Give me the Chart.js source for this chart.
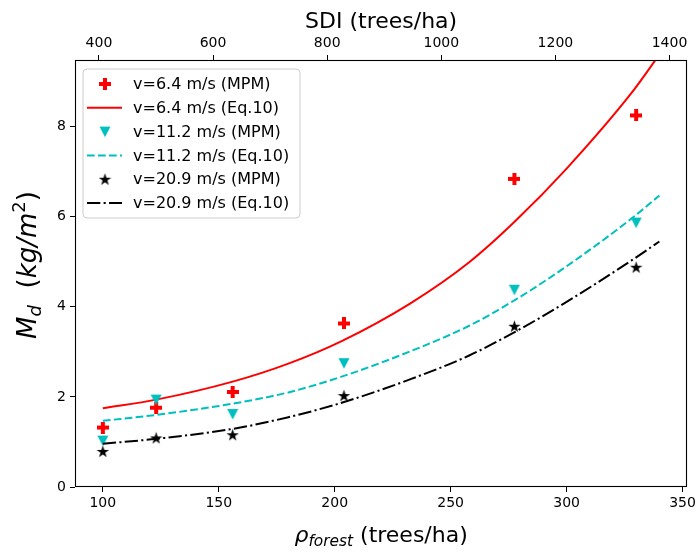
<!DOCTYPE html>
<html><head><meta charset="utf-8">
<script src="https://cdn.jsdelivr.net/npm/chart.js@4.4.1/dist/chart.umd.min.js"></script>
<style>html,body{margin:0;padding:0;background:#fff;}#wrap{width:699px;height:552px;}</style>
</head><body><div id="wrap"><canvas id="c" width="699" height="552"></canvas></div>
<script>
// ---- data ----
const rhoTicks = [100, 150, 200, 250, 300, 350];
const sdiTicks = [400, 600, 800, 1000, 1200, 1400];
const mdTicks = [0, 2, 4, 6, 8];
const rhoMeasured = [100, 123, 156, 204, 277.5, 330];
const mpm64 = [1.32, 1.76, 2.11, 3.63, 6.84, 8.25];
const mpm112 = [1.03, 1.94, 1.62, 2.75, 4.38, 5.87];
const mpm209 = [0.79, 1.09, 1.16, 2.03, 3.57, 4.88];
const rhoCurve = [100, 123, 156, 180, 203, 233, 258, 278, 300, 328, 340];
const eq64 = [1.75, 1.94, 2.34, 2.74, 3.24, 4.09, 4.99, 5.91, 7.07, 8.75, 9.6];
const eq112 = [1.47, 1.6, 1.85, 2.1, 2.45, 3.02, 3.58, 4.16, 4.9, 5.96, 6.47];
const eq209 = [0.96, 1.07, 1.29, 1.55, 1.87, 2.4, 2.92, 3.45, 4.11, 5.03, 5.45];
const seriesLabels = ['v=6.4 m/s (MPM)', 'v=6.4 m/s (Eq.10)', 'v=11.2 m/s (MPM)', 'v=11.2 m/s (Eq.10)', 'v=20.9 m/s (MPM)', 'v=20.9 m/s (Eq.10)'];

const RED = '#ff0000', CYAN = '#00bfbf', BLACK = '#000000';
const FONT = '"DejaVu Sans", sans-serif';

// ---- marker images ----
function mk(size, draw) {
  const c = document.createElement('canvas'); c.width = size; c.height = size;
  const g = c.getContext('2d'); draw(g, size); return c;
}
const plusImg = mk(12, (g, s) => {
  g.fillStyle = RED; const t = s / 3, a = (s - t) / 2;
  g.beginPath();
  g.moveTo(a, 0); g.lineTo(a + t, 0); g.lineTo(a + t, a); g.lineTo(s, a); g.lineTo(s, a + t);
  g.lineTo(a + t, a + t); g.lineTo(a + t, s); g.lineTo(a, s); g.lineTo(a, a + t); g.lineTo(0, a + t);
  g.lineTo(0, a); g.lineTo(a, a); g.closePath(); g.fill();
});
const triImg = mk(12, (g, s) => {
  g.fillStyle = CYAN; g.beginPath();
  g.moveTo(0.5, 1); g.lineTo(s - 0.5, 1); g.lineTo(s / 2, s - 0.5); g.closePath(); g.fill();
});
const starImg = mk(13, (g, s) => {
  g.fillStyle = BLACK; g.beginPath();
  const cx = s / 2, cy = s / 2 + 0.5, R = s / 2, r = R * 0.381966;
  for (let i = 0; i < 10; i++) {
    const ang = -Math.PI / 2 + i * Math.PI / 5, rr = i % 2 ? r : R;
    const x = cx + rr * Math.cos(ang), y = cy + rr * Math.sin(ang);
    i ? g.lineTo(x, y) : g.moveTo(x, y);
  }
  g.closePath(); g.fill();
});

const pts = (xs, ys) => xs.map((x, i) => ({ x: x, y: ys[i] }));
const DASH = [7.7, 3.3];
const DASHDOT = [13.3, 3.3, 2.1, 3.3];

const datasets = [
  { label: seriesLabels[0], data: pts(rhoMeasured, mpm64), showLine: false, pointStyle: plusImg, pointRadius: 6, order: 6 },
  { label: seriesLabels[1], data: pts(rhoCurve, eq64), borderColor: RED, borderWidth: 2, pointRadius: 0, cubicInterpolationMode: 'monotone', order: 5 },
  { label: seriesLabels[2], data: pts(rhoMeasured, mpm112), showLine: false, pointStyle: triImg, pointRadius: 6, order: 4 },
  { label: seriesLabels[3], data: pts(rhoCurve, eq112), borderColor: CYAN, borderWidth: 2, borderDash: DASH, pointRadius: 0, cubicInterpolationMode: 'monotone', order: 3 },
  { label: seriesLabels[4], data: pts(rhoMeasured, mpm209), showLine: false, pointStyle: starImg, pointRadius: 6, order: 2 },
  { label: seriesLabels[5], data: pts(rhoCurve, eq209), borderColor: BLACK, borderWidth: 2, borderDash: DASHDOT, pointRadius: 0, cubicInterpolationMode: 'monotone', order: 1 }
];

const tickFont = { family: FONT, size: 14 };
const plain = v => String(v);
function axisGrid() {
  return { drawOnChartArea: false, drawTicks: true, tickLength: 5, color: '#000', tickColor: '#000', tickWidth: 1 };
}

const framePlugin = {
  id: 'frame',
  afterDatasetsDraw(chart) {
    const a = chart.chartArea, ctx = chart.ctx;
    ctx.save(); ctx.strokeStyle = '#000'; ctx.lineWidth = 1.1;
    ctx.strokeRect(Math.round(a.left) + 0.5, Math.round(a.top) + 0.5, Math.round(a.right - a.left) - 1, Math.round(a.bottom - a.top) - 1);
    ctx.restore();
  }
};

function piecesWidth(ctx, pieces) {
  let w = 0; pieces.forEach(p => { ctx.font = p.font; w += ctx.measureText(p.t).width; }); return w;
}

const titlePlugin = {
  id: 'titles',
  afterDraw(chart) {
    const ctx = chart.ctx, a = chart.chartArea, cx = (a.left + a.right) / 2;
    ctx.save(); ctx.fillStyle = '#000'; ctx.textBaseline = 'alphabetic';
    // top title
    ctx.font = '22px ' + FONT; ctx.textAlign = 'center';
    ctx.fillText('SDI (trees/ha)', cx, 28);
    ctx.textAlign = 'left';
    // bottom title
    const bp = [
      { t: 'ρ', font: 'italic 22px ' + FONT },
      { t: 'forest', font: 'italic 15.4px ' + FONT, dy: 4 },
      { t: ' (trees/ha)', font: '22px ' + FONT }
    ];
    const bw = piecesWidth(ctx, bp);
    let x = cx - bw / 2;
    bp.forEach(p => { ctx.font = p.font; ctx.fillText(p.t, x, 542 + (p.dy || 0)); x += ctx.measureText(p.t).width; });
    // left title (rotated)
    const lp = [
      { t: 'M', font: 'italic 26px ' + FONT },
      { t: 'd', font: 'italic 18px ' + FONT, dy: 5 },
      { t: '  (', font: '26px ' + FONT },
      { t: 'kg/m', font: 'italic 26px ' + FONT },
      { t: '2', font: '18px ' + FONT, dy: -11 },
      { t: ')', font: '26px ' + FONT }
    ];
    const lw = piecesWidth(ctx, lp);
    ctx.translate(36, 265);
    ctx.rotate(-Math.PI / 2);
    x = -lw / 2;
    lp.forEach(p => { ctx.font = p.font; ctx.fillText(p.t, x, (p.dy || 0)); x += ctx.measureText(p.t).width; });
    ctx.restore();
  }
};

const legendPlugin = {
  id: 'mplLegend',
  afterDraw(chart) {
    const ctx = chart.ctx;
    ctx.save();
    const bx = 83, by = 69, bw = 217, bh = 149, r = 4;
    ctx.beginPath();
    ctx.moveTo(bx + r, by); ctx.lineTo(bx + bw - r, by); ctx.quadraticCurveTo(bx + bw, by, bx + bw, by + r);
    ctx.lineTo(bx + bw, by + bh - r); ctx.quadraticCurveTo(bx + bw, by + bh, bx + bw - r, by + bh);
    ctx.lineTo(bx + r, by + bh); ctx.quadraticCurveTo(bx, by + bh, bx, by + bh - r);
    ctx.lineTo(bx, by + r); ctx.quadraticCurveTo(bx, by, bx + r, by); ctx.closePath();
    ctx.fillStyle = 'rgba(255,255,255,0.8)'; ctx.fill();
    ctx.strokeStyle = '#cccccc'; ctx.lineWidth = 1; ctx.stroke();
    const handles = [
      { img: plusImg }, { color: RED, dash: [] },
      { img: triImg }, { color: CYAN, dash: DASH },
      { img: starImg }, { color: BLACK, dash: DASHDOT }
    ];
    ctx.font = '16px ' + FONT; ctx.textBaseline = 'middle'; ctx.textAlign = 'left';
    handles.forEach((h, i) => {
      const y = 84 + i * 23.8;
      if (h.img) {
        ctx.drawImage(h.img, 105 - h.img.width / 2, y - h.img.height / 2);
      } else {
        ctx.beginPath(); ctx.setLineDash(h.dash); ctx.strokeStyle = h.color; ctx.lineWidth = 2;
        ctx.moveTo(87, y); ctx.lineTo(122, y); ctx.stroke(); ctx.setLineDash([]);
      }
      ctx.fillStyle = '#000';
      ctx.fillText(seriesLabels[i], 133, y + 1);
    });
    ctx.restore();
  }
};

new Chart(document.getElementById('c'), {
  type: 'line',
  data: { datasets: datasets },
  options: {
    responsive: false, animation: false, devicePixelRatio: 1,
    layout: { padding: { left: 0, right: 10, top: 0, bottom: 0 } },
    plugins: { legend: { display: false }, tooltip: { enabled: false } },
    scales: {
      x: {
        type: 'linear', position: 'bottom', min: 88, max: 352,
        afterBuildTicks: s => { s.ticks = rhoTicks.map(v => ({ value: v })); },
        afterFit: s => { s.height = 65; },
        ticks: { font: tickFont, color: '#000', padding: 3, maxRotation: 0, autoSkip: false, callback: plain },
        grid: axisGrid(), border: { display: false }
      },
      x2: {
        type: 'linear', position: 'top', min: 358, max: 1431,
        afterBuildTicks: s => { s.ticks = sdiTicks.map(v => ({ value: v })); },
        afterFit: s => { s.height = 60; },
        ticks: { font: tickFont, color: '#000', padding: 3, maxRotation: 0, autoSkip: false, callback: plain },
        grid: axisGrid(), border: { display: false }
      },
      y: {
        type: 'linear', position: 'left', min: 0, max: 9.48,
        afterBuildTicks: s => { s.ticks = mdTicks.map(v => ({ value: v })); },
        afterFit: s => { s.width = 75; },
        ticks: { font: tickFont, color: '#000', padding: 4, autoSkip: false, callback: plain },
        grid: axisGrid(), border: { display: false }
      }
    }
  },
  plugins: [framePlugin, titlePlugin, legendPlugin]
});
</script>
</body></html>
